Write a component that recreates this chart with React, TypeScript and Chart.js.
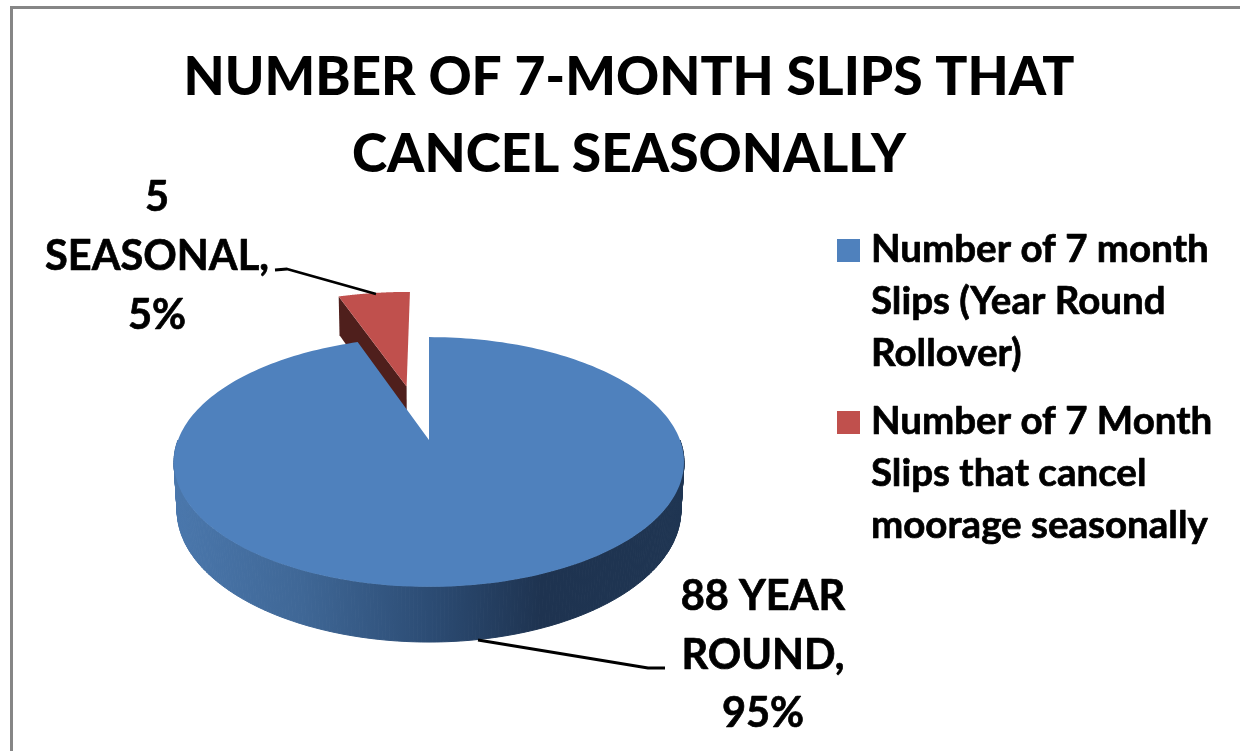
import React, { useEffect, useRef } from "react";
import { Chart, registerables } from "chart.js";

Chart.register(...registerables);

const titleLines = ["NUMBER OF 7-MONTH SLIPS THAT", "CANCEL SEASONALLY"];
const categories = [
  "Number of 7 month Slips (Year Round Rollover)",
  "Number of 7 Month Slips that cancel moorage seasonally",
];
const values = [88, 5];
const sliceColors = ["#4f81bd", "#c0504d"];
const legendLines = [
  ["Number of 7 month", "Slips (Year Round", "Rollover)"],
  ["Number of 7 Month", "Slips that cancel", "moorage seasonally"],
];
const dataLabelLines = [
  ["88 YEAR", "ROUND,", "95%"],
  ["5", "SEASONAL,", "5%"],
];

const FONT = "Lato";
const k = 0.176, m = 0.012, cx = 429, cy = 440, B = 251, A = 121, D = 47.9;
const explode = [0, 0.49];
const explodeTilt = [0, -0.03];
const radiusScale = [1, 1.08];

function project(u: number, v: number, h: number) {
  const w = 1 + k * v + m * h;
  return { x: cx + (B * u) / w, y: cy + (-A * v + D * h) / w };
}

function textBlock(ctx: any, lines: string[], x: number, y: number, pitch: number, size: number, align: any) {
  ctx.font = `bold ${size}px ${FONT}`;
  ctx.fillStyle = "#000";
  ctx.strokeStyle = "#000";
  ctx.lineWidth = 0.7;
  ctx.lineJoin = "round";
  ctx.textAlign = align;
  ctx.textBaseline = "middle";
  lines.forEach((t, i) => {
    ctx.fillText(t, x, y + i * pitch);
    ctx.strokeText(t, x, y + i * pitch);
  });
}

const pie3d = {
  id: "pie3d",
  beforeDraw(chart: any) {
    const c = chart.ctx;
    c.save();
    c.fillStyle = "#868686";
    c.fillRect(10, 6, 1230, 3);
    c.fillRect(10, 6, 3, 745);
    c.restore();
  },
  beforeDatasetDraw(chart: any, args: any) {
    const c = chart.ctx;
    const arcs = chart.getDatasetMeta(args.index).data;
    const segs = arcs.map((el: any, i: number) => {
      const a0 = el.startAngle + Math.PI / 2;
      const a1 = el.endAngle + Math.PI / 2;
      const mid = (a0 + a1) / 2 + explodeTilt[i];
      return {
        a0,
        a1,
        r: radiusScale[i],
        du: Math.sin(mid) * explode[i],
        dv: Math.cos(mid) * explode[i],
        color: sliceColors[i],
      };
    });
    const rim = (s: any, a: number, h: number) =>
      project(s.du + s.r * Math.sin(a), s.dv + s.r * Math.cos(a), h);
    const top = (s: any) => {
      c.beginPath();
      const p0 = project(s.du, s.dv, 0);
      c.moveTo(p0.x, p0.y);
      const n = 240;
      for (let j = 0; j <= n; j++) {
        const p = rim(s, s.a0 + ((s.a1 - s.a0) * j) / n, 0);
        c.lineTo(p.x, p.y);
      }
      c.closePath();
      c.fillStyle = s.color;
      c.fill();
    };
    c.save();
    const red = segs[1];
    const ap0 = project(red.du, red.dv, 0);
    const ap1 = project(red.du, red.dv, 1);
    const r0 = rim(red, red.a0, 0);
    const r1 = rim(red, red.a0, 1);
    c.beginPath();
    c.moveTo(ap0.x, ap0.y);
    c.lineTo(r0.x, r0.y);
    c.lineTo(r1.x, r1.y);
    c.lineTo(ap1.x, ap1.y);
    c.closePath();
    c.fillStyle = "#4f1f1c";
    c.fill();
    top(red);
    const blue = segs[0];
    const grad = c.createLinearGradient(175, 0, 684, 0);
    grad.addColorStop(0, "#4a77ac");
    grad.addColorStop(0.25, "#3f6796");
    grad.addColorStop(0.5, "#2c4c74");
    grad.addColorStop(0.72, "#1e3350");
    grad.addColorStop(1, "#1f3552");
    c.fillStyle = grad;
    c.strokeStyle = grad;
    c.lineWidth = 1;
    const n = 240;
    for (let j = 0; j < n; j++) {
      const a = Math.PI / 2 + (Math.PI * j) / n;
      const b = Math.PI / 2 + (Math.PI * (j + 1)) / n;
      const p1 = rim(blue, a, 0);
      const p2 = rim(blue, b, 0);
      const p3 = rim(blue, b, 1);
      const p4 = rim(blue, a, 1);
      c.beginPath();
      c.moveTo(p1.x, p1.y);
      c.lineTo(p2.x, p2.y);
      c.lineTo(p3.x, p3.y);
      c.lineTo(p4.x, p4.y);
      c.closePath();
      c.fill();
      c.stroke();
    }
    top(blue);
    c.restore();
    return false;
  },
  afterDraw(chart: any) {
    const c = chart.ctx;
    c.save();
    const ys = [239, 411];
    legendLines.forEach((lines, i) => {
      c.fillStyle = sliceColors[i];
      c.fillRect(837, ys[i], 23, 23);
      textBlock(c, lines, 871, ys[i] + 11, 52, 38.5, "left");
    });
    textBlock(c, dataLabelLines[0], 763, 597, 58.5, 41.5, "center");
    textBlock(c, dataLabelLines[1], 157, 198, 59, 41.5, "center");
    c.strokeStyle = "#000";
    c.lineWidth = 2.8;
    c.beginPath();
    c.moveTo(275, 270);
    c.lineTo(287, 269);
    c.lineTo(376, 294);
    c.moveTo(478, 640);
    c.lineTo(648, 668);
    c.lineTo(665, 668);
    c.stroke();
    c.restore();
  },
};

export default function App() {
  const ref = useRef<HTMLCanvasElement>(null);
  useEffect(() => {
    const chart = new Chart(ref.current as any, {
      type: "pie",
      data: {
        labels: categories,
        datasets: [{ data: values, backgroundColor: sliceColors, borderWidth: 0 }],
      },
      options: {
        animation: false,
        responsive: false,
        layout: { padding: { left: 18, top: 0 } },
        plugins: {
          legend: { display: false },
          tooltip: { enabled: false },
          title: {
            display: true,
            text: titleLines,
            color: "#000",
            font: { family: FONT, size: 53.3, weight: "900", lineHeight: 1.43 },
            padding: { top: 40, bottom: 10 },
          },
        },
      },
      plugins: [pie3d],
    } as any);
    return () => chart.destroy();
  }, []);
  return (
    <div style={{ position: "fixed", left: 0, top: 0, width: 1240, height: 751, background: "#fff" }}>
      <canvas ref={ref} width={1240} height={751} style={{ display: "block", filter: "blur(0.5px)" }} />
    </div>
  );
}
